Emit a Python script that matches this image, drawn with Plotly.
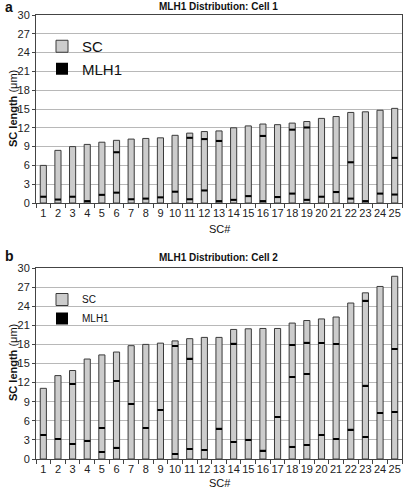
import plotly.graph_objects as go

sc_num = [str(i) for i in range(1, 26)]

# Cell 1
sc_len_cell1 = [6.0, 8.4, 9.0, 9.35, 9.7, 10.0, 10.2, 10.3, 10.4, 10.8, 11.15, 11.4, 11.5,
                12.0, 12.3, 12.6, 12.5, 12.75, 13.0, 13.5, 13.8, 14.45, 14.55, 14.8, 15.1]
mlh1_cell1 = [[1.0], [0.55], [1.0], [0.3], [1.3], [8.1, 1.65], [0.6], [0.7], [0.9], [1.8],
              [10.4, 0.6], [10.2, 2.0], [9.9, 0.3], [0.5], [1.1], [10.7, 0.3], [0.95],
              [11.7, 1.5], [12.05, 0.5], [1.0], [1.75], [6.5, 0.7], [0.3], [1.5], [7.2, 1.35]]

# Cell 2
sc_len_cell2 = [11.1, 13.1, 13.9, 15.7, 16.35, 16.8, 17.8, 18.0, 18.2, 18.55, 18.9, 19.1, 19.1,
                20.35, 20.45, 20.5, 20.5, 21.35, 21.75, 22.0, 22.3, 24.5, 26.1, 27.1, 28.7]
mlh1_cell2 = [[3.8], [3.15], [11.85, 2.35], [2.9], [4.9, 1.15], [12.3, 1.8], [8.6], [4.9], [7.7],
              [17.8, 0.8], [15.8, 1.6], [1.45], [4.8], [18.15, 2.7], [3.05], [1.35], [6.55],
              [17.95, 12.85, 1.95], [18.3, 13.3, 2.15], [18.25, 3.8], [18.1, 3.1], [4.65],
              [24.9, 11.55, 3.5], [7.2], [17.3, 7.4]]

FONT = "Liberation Sans, Arial, sans-serif"
W, H = 405, 490
fig = go.Figure()

panels = [
    dict(sc=sc_len_cell1, mlh=mlh1_cell1, xa="x", ya="y", leg="legend", thick=0.33),
    dict(sc=sc_len_cell2, mlh=mlh1_cell2, xa="x2", ya="y2", leg="legend2", thick=0.2),
]
for p in panels:
    fig.add_trace(go.Bar(
        x=sc_num, y=p["sc"], name="SC", width=0.42,
        marker=dict(color="#cccccc", line=dict(color="#3a3a3a", width=1)),
        xaxis=p["xa"], yaxis=p["ya"], legend=p["leg"]))
    mx, mbase, my = [], [], []
    for cat, marks in zip(sc_num, p["mlh"]):
        for m in marks:
            mx.append(cat)
            mbase.append(m - p["thick"] / 2)
            my.append(p["thick"])
    fig.add_trace(go.Bar(
        x=mx, y=my, base=mbase, name="MLH1", width=0.42,
        marker=dict(color="#000000", line=dict(width=0)),
        xaxis=p["xa"], yaxis=p["ya"], legend=p["leg"]))

xdom = [36 / W, 402 / W]
ydom_a = [1 - 203 / H, 1 - 15 / H]
ydom_b = [1 - 459 / H, 1 - 268 / H]

xcommon = dict(domain=xdom, type="category", categoryorder="array", categoryarray=sc_num,
               range=[-0.5, 24.5], autorange=False,
               showline=True, linecolor="#444", linewidth=1,
               mirror=True, ticks="outside", ticklen=4, tickcolor="#444", tickson="boundaries",
               tickangle=0,
               tickfont=dict(family=FONT, size=11, color="#222"), showgrid=False,
               automargin=False, fixedrange=True)
ycommon = dict(range=[0, 30], dtick=3, tick0=0, showline=True, linecolor="#444", linewidth=1,
               mirror=True, ticks="outside", ticklen=3, tickcolor="#444",
               gridcolor="#b8b8b8", gridwidth=1, zeroline=False,
               tickfont=dict(family=FONT, size=11, color="#222"), automargin=False,
               fixedrange=True)

fig.update_layout(
    width=W, height=H, margin=dict(l=0, r=0, t=0, b=0),
    paper_bgcolor="white", plot_bgcolor="white", barmode="overlay",
    xaxis=dict(xcommon, anchor="y"),
    yaxis=dict(ycommon, domain=ydom_a, anchor="x"),
    xaxis2=dict(xcommon, anchor="y2"),
    yaxis2=dict(ycommon, domain=ydom_b, anchor="x2"),
    legend=dict(x=42 / W, y=1 - 30 / H, xanchor="left", yanchor="top",
                bgcolor="rgba(0,0,0,0)", font=dict(family=FONT, size=15, color="#111"),
                tracegroupgap=0, itemwidth=30),
    legend2=dict(x=42 / W, y=1 - 285 / H, xanchor="left", yanchor="top",
                 bgcolor="rgba(0,0,0,0)", font=dict(family=FONT, size=10, color="#111"),
                 tracegroupgap=0, itemwidth=30),
    showlegend=True,
)

ann = []
def a(text, x, y, size, bold=False, angle=0, xanchor="center"):
    ann.append(dict(text=f"<b>{text}</b>" if bold else text, x=x / W, y=1 - y / H,
                    xref="paper", yref="paper", showarrow=False, textangle=angle,
                    xanchor=xanchor, yanchor="middle",
                    font=dict(family=FONT, size=size, color="#111")))

a("a", 3, 7, 14, bold=True, xanchor="left")
a("MLH1 Distribution: Cell 1", 218, 7, 10, bold=True)
a("<b>SC length</b> (μm)", 13, 109, 11, angle=-90)
a("SC#", 220, 229, 11)
a("b", 3, 256, 14, bold=True, xanchor="left")
a("MLH1 Distribution: Cell 2", 218, 257, 10, bold=True)
a("<b>SC length</b> (μm)", 13, 363, 11, angle=-90)
a("SC#", 220, 483, 11)
fig.update_layout(annotations=ann)

fig.write_html("out.html", config={"displayModeBar": False},
               post_script="document.body.style.margin='0';document.body.style.overflow='hidden';")
